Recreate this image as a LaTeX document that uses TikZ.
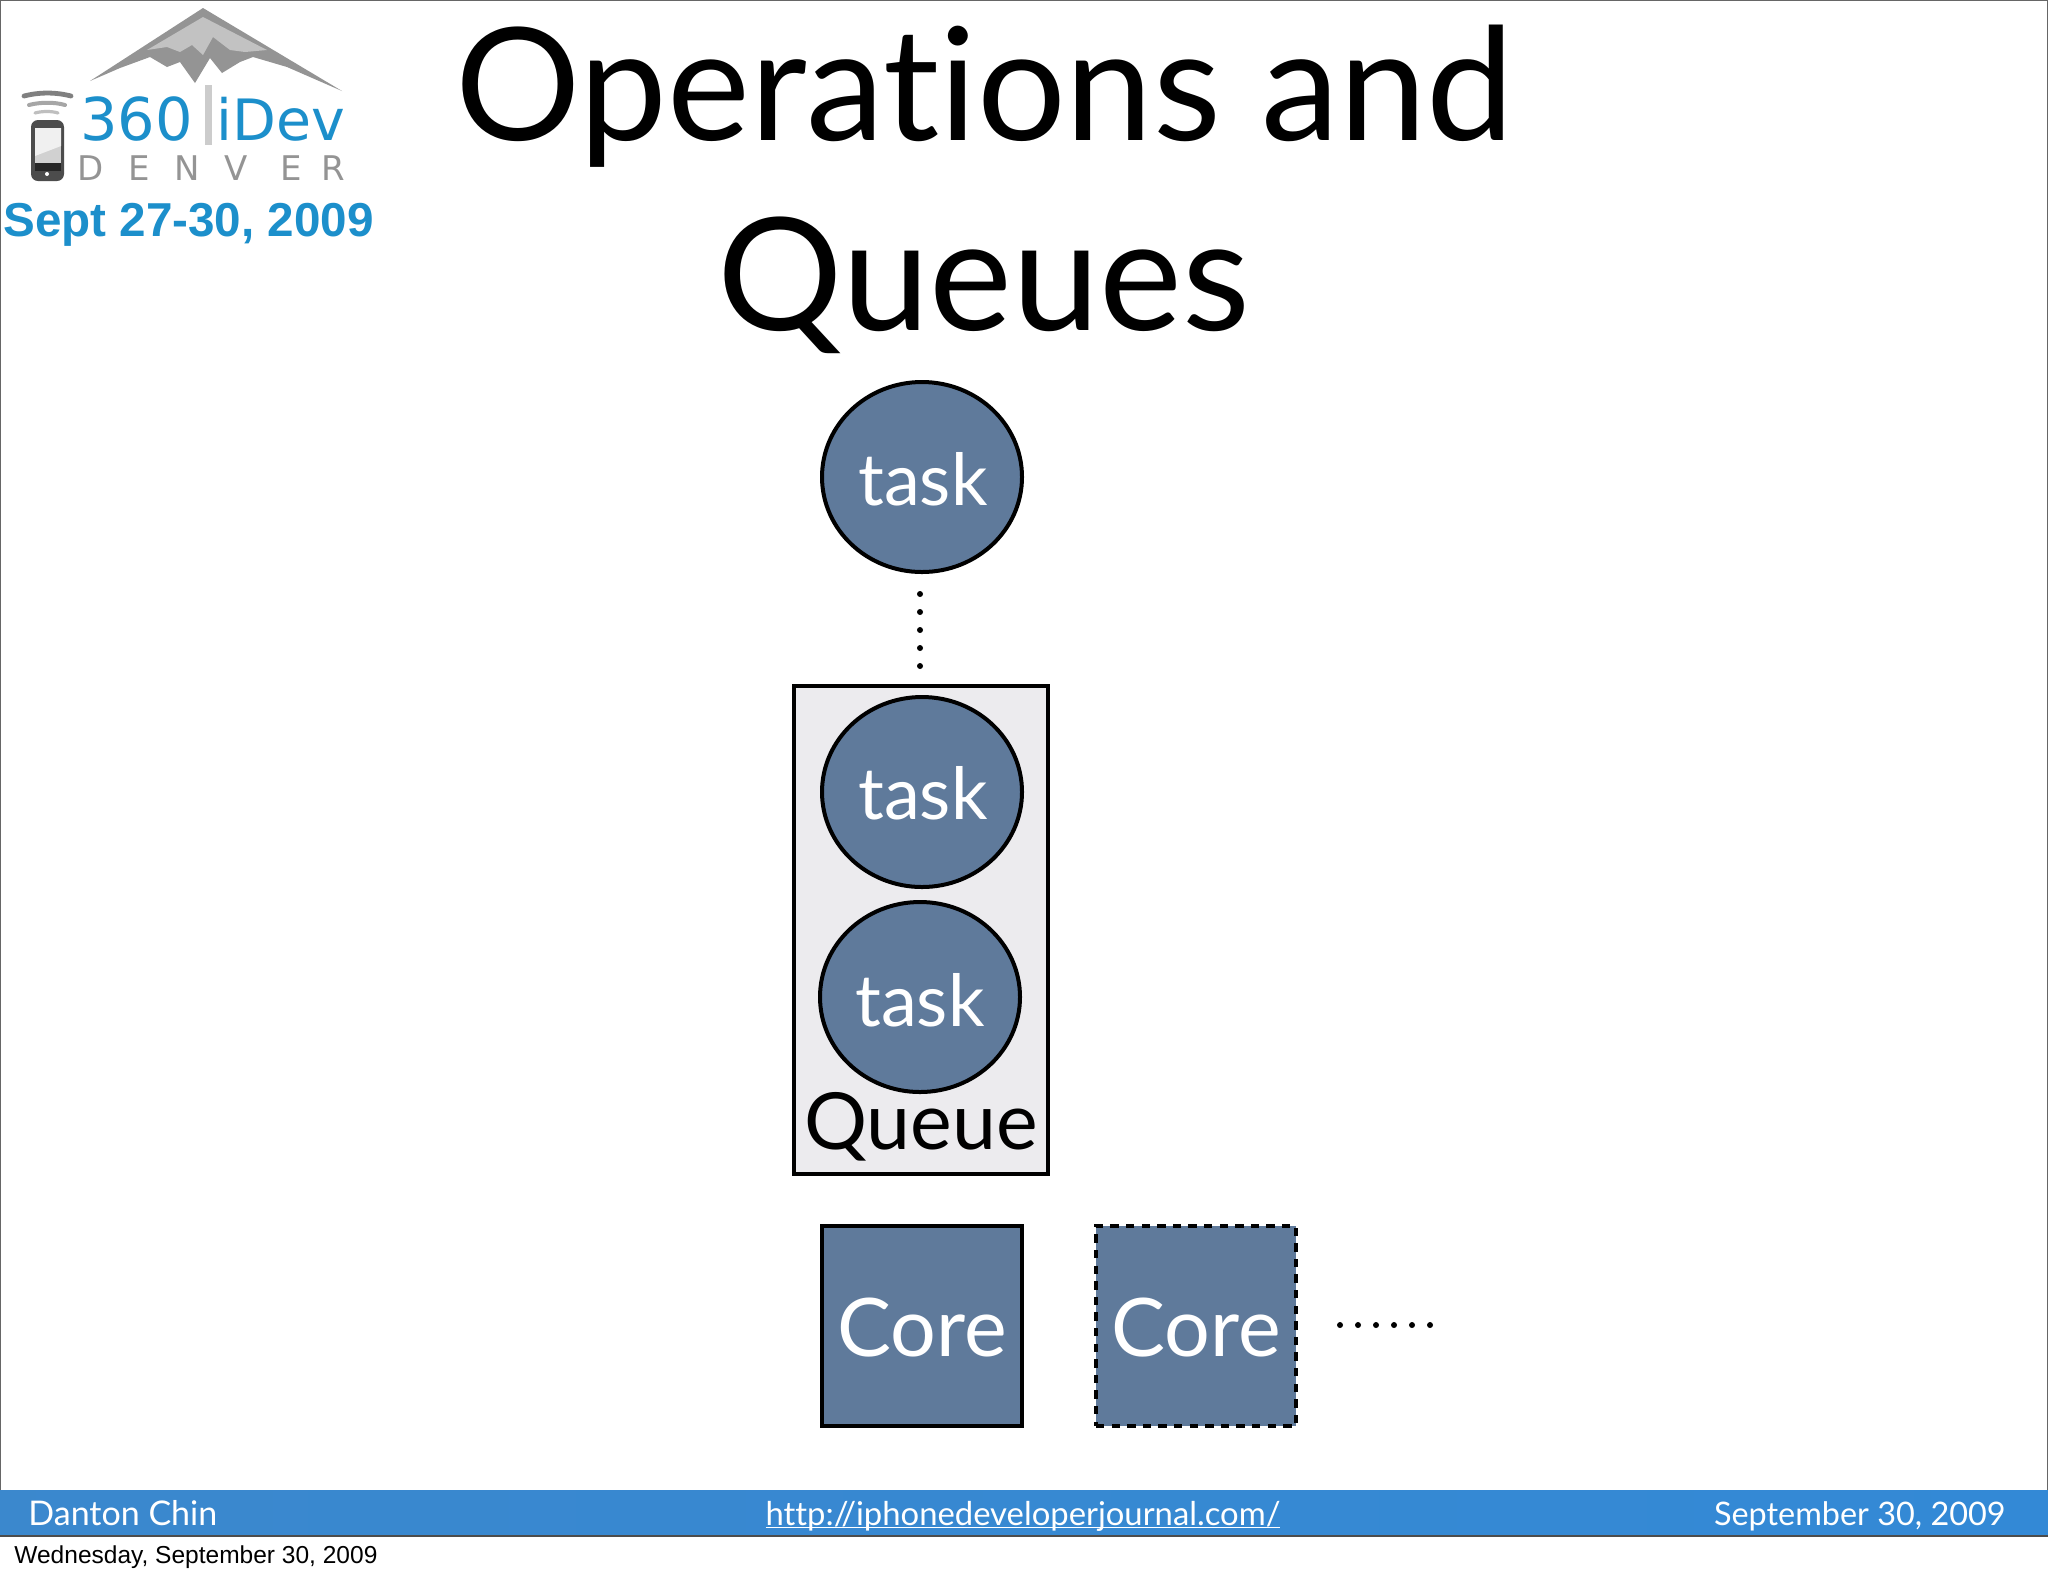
\documentclass[tikz,border=0pt]{standalone}
\usepackage{fontspec}
\usetikzlibrary{shapes.geometric}
\setmainfont{Lato}[Ligatures=NoCommon]
\newfontfamily\arialfont{Liberation Sans}
\newfontfamily\logofont{DejaVu Sans}[Scale=1]
\definecolor{slateblue}{HTML}{5F7A9B}
\definecolor{queuegrey}{HTML}{ECEBEE}
\definecolor{barblue}{HTML}{3389D6}
\definecolor{logoblue}{HTML}{1C8FCB}
\tikzset{
  x=0.5pt,y=-0.5pt,
  taskcircle/.style={ellipse,draw=black,line width=2pt,fill=slateblue,minimum width=100pt,minimum height=95pt,inner sep=0pt},
  corebox/.style={rectangle,fill=slateblue,minimum width=100pt,minimum height=100pt,inner sep=0pt},
  label/.style={anchor=base,inner sep=0pt,text=white},
  dotrow/.style={line width=3pt,line cap=round,dash pattern=on 0pt off 9pt},
  bartext/.style={anchor=base,inner sep=0pt,text=white},
  big/.style={anchor=base,inner sep=0pt,text=black,font=\fontsize{78.4}{78.4}\selectfont}
}
\begin{document}
\begin{tikzpicture}
\useasboundingbox (0,0) rectangle (2048,1576);
\fill[white] (0,0) rectangle (2048,1576);
\draw[gray!80!black,line width=0.7pt] (0.7,1536) -- (0.7,0.7) -- (2047.3,0.7) -- (2047.3,1536);
% footer
\shade[left color=barblue!90!gray,right color=barblue] (0,1490) rectangle (2048,1535);
\draw[black!70,line width=1pt] (0,1536) -- (2048,1536);
\node[bartext,anchor=base west,font=\fontsize{17}{17}\selectfont] (author) at (28,1525) {Danton Chin};
\node[bartext,font=\fontsize{16.4}{16.4}\selectfont] (url) at (1023,1525) {\underline{\smash{http://iphonedeveloperjournal.com/}}};
\node[bartext,anchor=base east,font=\fontsize{16.2}{16.2}\selectfont] (date) at (2006,1525) {September 30, 2009};
\node[anchor=base west,inner sep=0pt,font=\arialfont\fontsize{12.26}{12.26}\selectfont] (stamp) at (14,1563) {Wednesday, September 30, 2009};
% title
\node[big] (title1) at (985,140) {Operations and};
\node[big] (title2) at (984,330) {Queues};
% queue
\node[rectangle,draw=black,line width=2pt,fill=queuegrey,minimum width=127pt,minimum height=244pt,inner sep=0pt] (queue) at (921,930) {};
\node[taskcircle] (task1) at (922,477) {};
\node[taskcircle] (task2) at (922,792) {};
\node[taskcircle] (task3) at (920,997) {};
\node[label,font=\fontsize{36}{36}\selectfont] (t1) at (923,505) {task};
\node[label,font=\fontsize{36}{36}\selectfont] (t2) at (923,819) {task};
\node[label,font=\fontsize{36}{36}\selectfont] (t3) at (920,1026) {task};
\node[label,text=black,font=\fontsize{39.4}{39.4}\selectfont] (qlabel) at (921,1149) {Queue};
\coordinate (d1) at (920,594);
\coordinate (d2) at (920,670);
\draw[dotrow] (d1) -- (d2);
% cores
\node[corebox,draw=black,line width=2pt] (core1) at (922,1326) {};
\node[corebox,draw=black,line width=1.7pt,dash pattern=on 4.2pt off 3.6pt] (core2) at (1196,1326) {};
\node[label,font=\fontsize{40.4}{40.4}\selectfont] (c1) at (922,1356) {Core};
\node[label,font=\fontsize{40.4}{40.4}\selectfont] (c2) at (1196,1356) {Core};
\coordinate (e1) at (1340,1325);
\coordinate (e2) at (1436,1325);
\draw[dotrow] (e1) -- (e2);
% logo: mountain
\fill[black!42] (90,81) -- (203,8) -- (342,91) -- (287,67) -- (253,57) -- (240,62) -- (222,73) -- (210,58) -- (195,83) -- (180,62) -- (167,67) -- (150,57) -- (120,68) -- cycle;
\fill[black!24] (147,50) -- (203,17) -- (267,50) -- (245,52) -- (230,50) -- (213,37) -- (203,55) -- (192,45) -- (180,52) -- (167,47) -- cycle;
% logo: signal
\draw[black!50,line width=2.4pt,line cap=round] (24,96) .. controls (40,92) and (55,92) .. (71,96);
\draw[black!35,line width=2pt,line cap=round] (29,105) .. controls (40,102) and (55,102) .. (65,105);
\draw[black!25,line width=1.6pt,line cap=round] (35,113) .. controls (42,111) and (52,111) .. (58,113);
% logo: phone
\fill[black!70,rounded corners=3.5pt] (31,120) rectangle (64,181);
\fill[black!18] (35,128) rectangle (61,170);
\fill[black!6] (35,128) -- (61,128) -- (61,146) -- (35,156) -- cycle;
\fill[black!85] (35,163) rectangle (61,171);
\fill[white] (47,174) circle[radius=1pt];
% logo: wordmark
\node[anchor=base west,inner sep=0pt,text=logoblue,font=\logofont\fontsize{29.5}{29.5}\selectfont] (l360) at (80,140) {360};
\fill[black!20] (205,85) rectangle (212,145);
\node[anchor=base west,inner sep=0pt,text=logoblue,font=\logofont\fontsize{28.5}{28.5}\selectfont] (lidev) at (216,140) {iDev};
\foreach \ch/\xx in {D/91,E/139,N/187,V/236,E/291,R/333}{
  \node[anchor=base,inner sep=0pt,text=black!42,font=\logofont\fontsize{17}{17}\selectfont] at (\xx,180) {\ch};
}
\node[anchor=base west,inner sep=0pt,text=logoblue,font=\arialfont\bfseries\fontsize{23.8}{23.8}\selectfont] (sept) at (3,236) {Sept 27-30, 2009};
\end{tikzpicture}
\end{document}
